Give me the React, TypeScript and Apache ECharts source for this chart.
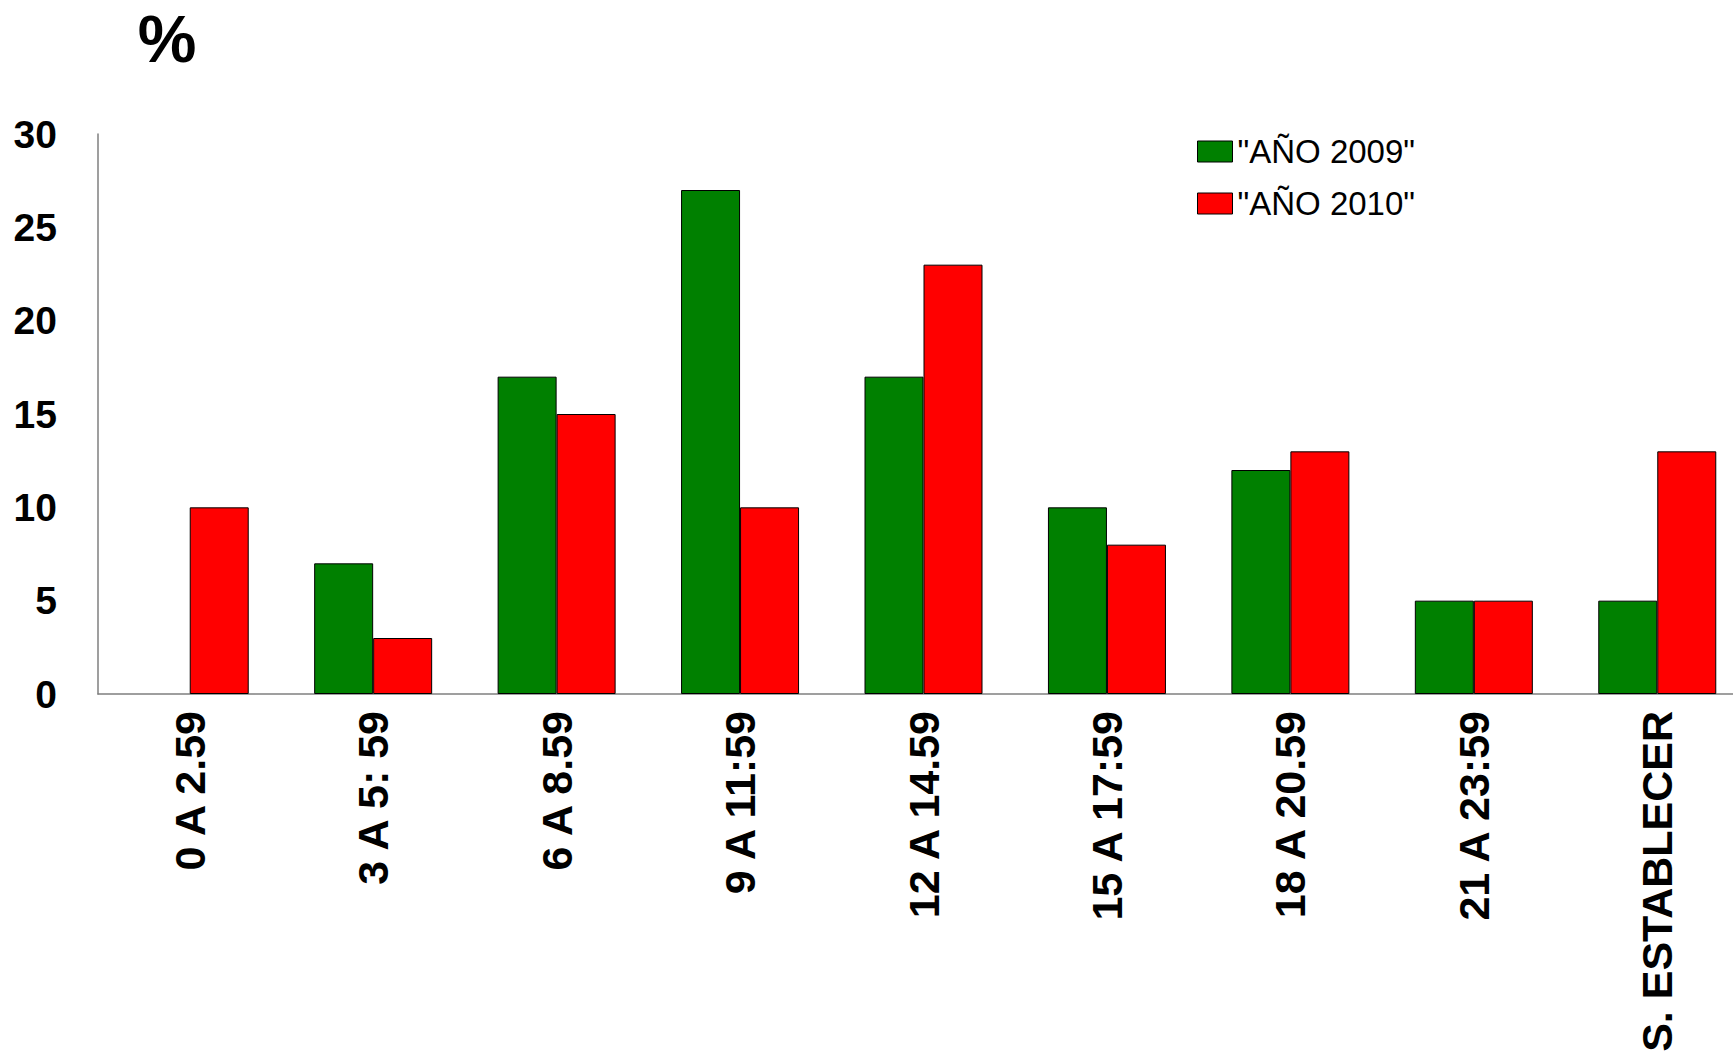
import React, { useEffect, useRef } from "react";
import * as echarts from "echarts";

const categories = [
  "0 A 2.59",
  "3 A 5: 59",
  "6 A 8.59",
  "9 A 11:59",
  "12 A 14.59",
  "15 A 17:59",
  "18 A 20.59",
  "21 A 23:59",
  "S. ESTABLECER",
];
const year2009 = [0, 7, 17, 27, 17, 10, 12, 5, 5];
const year2010 = [10, 3, 15, 10, 23, 8, 13, 5, 13];
const seriesNames = ['"AÑO 2009"', '"AÑO 2010"'];
const yTicks = { min: 0, max: 30, interval: 5 };

const FONT = "'Liberation Sans', Arial, Helvetica, sans-serif";

const toItems = (arr: number[]) =>
  arr.map((v) => (v === 0 ? { value: v, itemStyle: { borderWidth: 0 } } : v));

export default function App() {
  const ref = useRef<HTMLDivElement>(null);
  useEffect(() => {
    if (!ref.current) return;
    const chart = echarts.init(ref.current, null, { renderer: "svg" });
    chart.setOption({
      animation: false,
      backgroundColor: "#ffffff",
      graphic: [
        {
          type: "text",
          x: 167,
          y: 39,
          style: {
            text: "%",
            fontSize: 66,
            fontWeight: "bold",
            fontFamily: FONT,
            fill: "#000",
            textAlign: "center",
            textVerticalAlign: "middle",
          },
        },
      ],
      legend: {
        orient: "vertical",
        left: 1197,
        top: 135,
        padding: 0,
        itemWidth: 35,
        itemHeight: 21,
        itemGap: 19,
        icon: "rect",
        data: seriesNames,
        itemStyle: { borderColor: "#000", borderWidth: 1 },
        textStyle: {
          fontSize: 33,
          fontFamily: FONT,
          color: "#000",
        },
      },
      grid: {
        left: 98,
        top: 134,
        width: 1651,
        height: 560,
        containLabel: false,
        outerBoundsMode: "none",
      },
      xAxis: {
        type: "category",
        data: categories,
        axisLine: { show: true, lineStyle: { color: "#7f7f7f", width: 1.5 } },
        axisTick: { show: false },
        axisLabel: {
          rotate: 90,
          margin: 17,
          interval: 0,
          fontSize: 43,
          fontWeight: "bold",
          fontFamily: FONT,
          color: "#000",
        },
      },
      yAxis: {
        type: "value",
        min: yTicks.min,
        max: yTicks.max,
        interval: yTicks.interval,
        splitLine: { show: false },
        axisLine: { show: true, lineStyle: { color: "#7f7f7f", width: 1.5 } },
        axisTick: { show: false },
        axisLabel: {
          margin: 41,
          fontSize: 39,
          fontWeight: "bold",
          fontFamily: FONT,
          color: "#000",
        },
      },
      series: [
        {
          name: seriesNames[0],
          type: "bar",
          data: toItems(year2009),
          barWidth: 59,
          barGap: "0%",
          itemStyle: { color: "#008000", borderColor: "#000", borderWidth: 1 },
        },
        {
          name: seriesNames[1],
          type: "bar",
          data: toItems(year2010),
          barWidth: 59,
          barGap: "0%",
          itemStyle: { color: "#ff0000", borderColor: "#000", borderWidth: 1 },
        },
      ],
    });
    return () => chart.dispose();
  }, []);
  return (
    <div
      ref={ref}
      style={{
        position: "fixed",
        left: 0,
        top: 0,
        width: 1733,
        height: 1052,
        background: "#fff",
      }}
    />
  );
}
